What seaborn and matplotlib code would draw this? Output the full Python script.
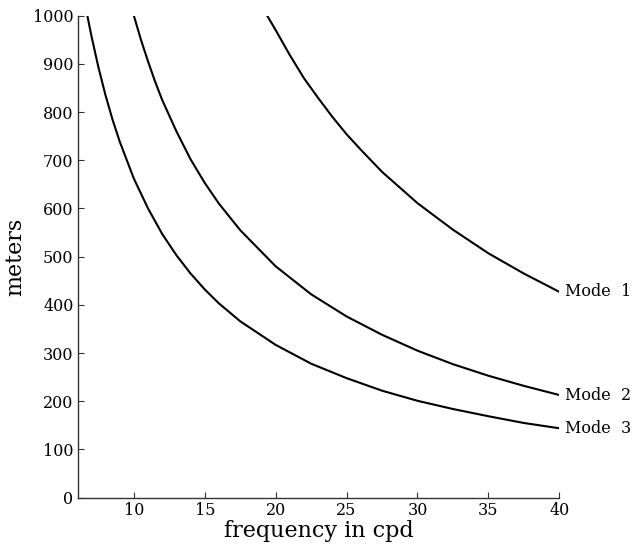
import numpy as np
import pandas as pd
import matplotlib
matplotlib.use("Agg")
import matplotlib.pyplot as plt
import seaborn as sns

# values
freq_mode1 = [19.4, 20, 21, 22, 23, 24, 25, 26, 27.5, 30, 32.5, 35, 37.5, 40]
meters_mode1 = [1000, 970, 918, 870, 829, 790, 754, 722, 676, 611, 556, 507, 465, 427]

freq_mode2 = [10, 10.5, 11, 11.5, 12, 13, 14, 15, 16, 17.5, 20, 22.5, 25, 27.5, 30, 32.5, 35, 37.5, 40]
meters_mode2 = [1000, 950, 905, 863, 825, 760, 702, 653, 610, 555, 480, 422, 376, 338, 305, 277, 253, 232, 213]

freq_mode3 = [6.72, 7, 7.5, 8, 8.5, 9, 10, 11, 12, 13, 14, 15, 16, 17.5, 20, 22.5, 25, 27.5, 30, 32.5, 35, 37.5, 40]
meters_mode3 = [1000, 959, 893, 835, 784, 739, 662, 600, 547, 503, 465, 432, 403, 366, 317, 278, 248, 222, 201, 184, 169, 155, 144]

mode_names = ["Mode  1", "Mode  2", "Mode  3"]
x_ticks = [10, 15, 20, 25, 30, 35, 40]
y_ticks = [0, 100, 200, 300, 400, 500, 600, 700, 800, 900, 1000]

frames = []
for name, f, m in zip(mode_names,
                      [freq_mode1, freq_mode2, freq_mode3],
                      [meters_mode1, meters_mode2, meters_mode3]):
    frames.append(pd.DataFrame({"freq": f, "meters": m, "mode": name}))
df = pd.concat(frames, ignore_index=True)

sns.set_style("ticks")
plt.rcParams["font.family"] = ["DejaVu Serif"]
plt.rcParams["text.color"] = "black"
plt.rcParams["axes.labelcolor"] = "black"

fig = plt.figure(figsize=(6.39, 5.48), dpi=100)
ax = fig.add_axes([0.1216, 0.0918, 0.7537, 0.8796])

sns.lineplot(data=df, x="freq", y="meters", units="mode", estimator=None,
             color="black", linewidth=1.5, ax=ax, sort=False)

# curve labels at the right end of each line
for name in mode_names:
    sub = df[df["mode"] == name]
    ax.annotate(name, xy=(sub["freq"].iloc[-1], sub["meters"].iloc[-1]),
                xytext=(4, 0), textcoords="offset points",
                va="center", ha="left", fontsize=11.5, annotation_clip=False)

ax.set_xlim(6.04, 40)
ax.set_ylim(0, 1000)
ax.set_xticks(x_ticks)
ax.set_yticks(y_ticks)
ax.tick_params(direction="in", length=4, width=0.8, labelsize=11.5, pad=3,
               color="#333333", labelcolor="black")
ax.set_xlabel("frequency in cpd", fontsize=16, labelpad=1)
ax.set_ylabel("meters", fontsize=16, labelpad=5)
for s in ["left", "bottom"]:
    ax.spines[s].set_color("#333333")
    ax.spines[s].set_linewidth(1.0)
sns.despine(ax=ax)

fig.savefig("out.png", dpi=100)
